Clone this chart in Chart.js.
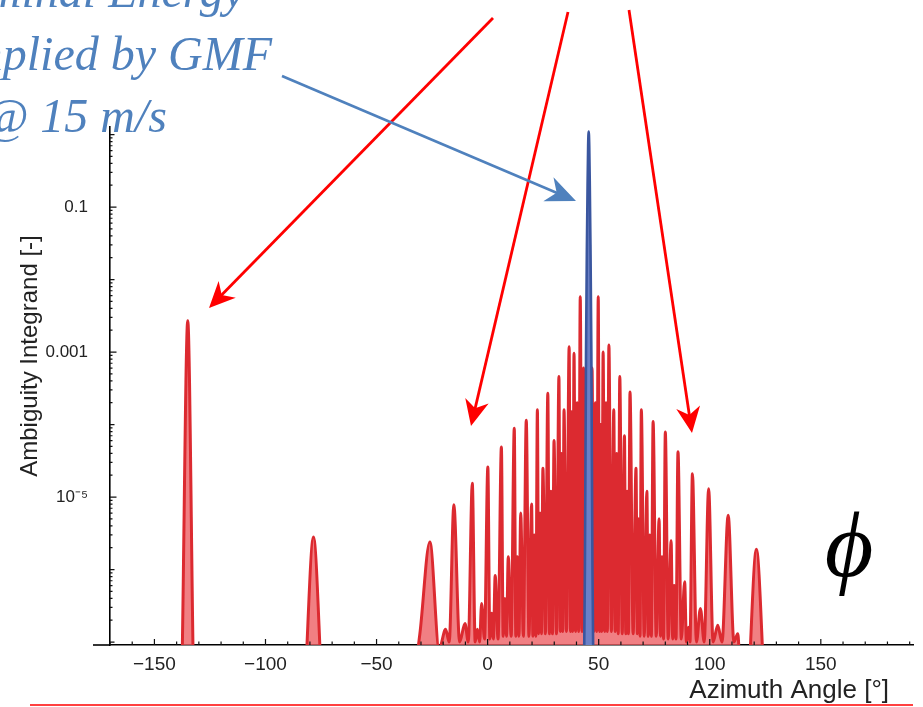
<!DOCTYPE html>
<html>
<head>
<meta charset="utf-8">
<title>Ambiguity Integrand</title>
<script src="https://cdn.jsdelivr.net/npm/chart.js"></script>
<style>
  html, body { margin: 0; padding: 0; background: #fff; }
  #wrap { width: 923px; height: 707px; position: relative; }
</style>
</head>
<body>
<div id="wrap"><canvas id="ambChart"></canvas></div>
<script>
// azimuth angles [deg] and ambiguity integrand values
// (peak, then the dip that follows it)
const redAngle = [
  -172,
  -138.3, -135.0, -131.8,
  -83.5, -78.4, -73.4,
  -36.0, -30.5, -26.0, -21.8,
  -18.9, -17.3, -15.2, -12.6, -10.2, -8.7, -6.9, -5.6, -4.6, -3.6, -2.7, -1.4,
  0.1, 1.0, 1.8, 2.6, 3.4, 4.7, 6.2, 7.0, 7.8, 8.5, 9.3, 10.6,
  12.0, 12.7, 13.4, 14.1, 14.9, 16.1, 17.4, 18.6, 19.8, 20.4, 21.0, 21.7,
  22.4, 23.0, 23.6, 24.2, 24.9, 26.0, 27.1, 27.8, 28.5, 29.2, 29.9, 31.0,
  32.1, 32.7, 33.2, 33.8, 34.4, 35.5, 36.7, 37.3, 37.8, 38.3, 38.9, 39.6,
  40.3, 41.0, 41.7, 42.5, 43.2, 44.0, 44.8, 45.6, 47.0, 47.8, 48.5, 49.1,
  49.8, 50.4, 50.9, 51.4, 52.0, 52.7, 53.3, 53.9, 54.6, 55.7, 56.8, 57.4,
  58.1, 58.8, 59.5, 60.6, 61.6, 62.2, 62.8, 63.4, 64.1, 65.5, 66.8, 67.4,
  68.0, 68.6, 69.2, 70.5, 71.7, 72.3, 73.0, 73.7, 74.5, 75.9, 77.2, 77.8,
  78.5, 79.2, 80.0, 81.3, 82.6, 83.3, 84.0, 84.8, 85.7, 87.2, 88.7, 89.5,
  90.4, 91.1, 92.2, 94.0, 95.8, 97.5, 99.5, 101.5, 103.6, 105.5, 108.3, 110.9,
  112.6, 114.5,
  116.2, 121.0, 125.8,
  196
];
const redValue = [
  1e-8,
  1e-8, 2.7e-3, 1e-8,
  1e-8, 2.8e-6, 1e-8,
  1e-8, 1.3e-7, 2.4e-6, 8e-8,
  1.5e-7, 1.0e-7, 7.8e-6, 1.0e-7, 1.8e-7, 1.0e-7, 1.55e-5, 1.0e-7, 1.5e-7, 1.0e-7, 3.4e-7, 1.1e-7,
  2.6e-5, 1.1e-7, 2.5e-7, 1.1e-7, 8.3e-7, 1.1e-7, 4.9e-5, 1.2e-7, 4e-7, 1.2e-7, 1.5e-6, 1.2e-7,
  8.9e-5, 1.2e-7, 1.5e-6, 1.2e-7, 6e-6, 1.2e-7, 1.15e-4, 1.2e-7, 8e-6, 1.2e-7, 3e-6, 1.2e-7,
  1.6e-4, 1.3e-7, 6e-6, 1.3e-7, 2.5e-5, 1.3e-7, 2.7e-4, 1.3e-7, 1.2e-5, 1.3e-7, 6e-5, 1.3e-7,
  4.6e-4, 1.4e-7, 4e-5, 1.4e-7, 1.6e-4, 1.4e-7, 1.18e-3, 1.4e-7, 1.5e-4, 1.4e-7, 9.6e-4, 1.4e-7,
  2e-4, 1.4e-7, 5.8e-3, 1.4e-7, 6e-4, 1.4e-7, 2e-4, 1.4e-7, 6e-4, 1.4e-7, 2e-4, 1.4e-7,
  5.8e-3, 1.4e-7, 1e-4, 1.4e-7, 1.0e-3, 1.4e-7, 2e-4, 1.4e-7, 1.25e-3, 1.4e-7, 1.6e-4, 1.4e-7,
  4e-5, 1.3e-7, 4.6e-4, 1.3e-7, 7e-5, 1.3e-7, 1.2e-5, 1.3e-7, 2.8e-4, 1.3e-7, 2.5e-5, 1.3e-7,
  5e-6, 1.2e-7, 1.6e-4, 1.2e-7, 1.2e-5, 1.2e-7, 3e-6, 1.2e-7, 1.1e-4, 1.2e-7, 5e-6, 1.2e-7,
  1.5e-6, 1.1e-7, 7.9e-5, 1.1e-7, 2.5e-6, 1.1e-7, 6e-7, 1.1e-7, 4.2e-5, 1.1e-7, 6.8e-7, 1.0e-7,
  1.6e-7, 1.0e-7, 2.1e-5, 1.0e-7, 2.9e-7, 1.0e-7, 1.3e-5, 1.0e-7, 1.7e-7, 1.0e-7, 5.6e-6, 1.0e-7,
  1.3e-7, 1e-8,
  1e-8, 1.9e-6, 1e-8,
  1e-8
];
// GMF peak
const blueAngle = [43.2, 43.8, 44.3, 44.7, 45.0, 45.25, 45.5, 45.75, 46.0, 46.3, 46.7, 47.2, 47.8];
const blueValue = [1e-8, 1e-6, 1e-3, 0.03, 0.2, 0.7, 1.1, 0.7, 0.2, 0.03, 1e-3, 1e-6, 1e-8];

const xTickValues = [-150, -100, -50, 0, 50, 100, 150];
const yTickValues = [1e-5, 1e-3, 0.1];
const yTickLabels = ['10\u207B\u2075', '0.001', '0.1'];

const pts = (xs, ys) => xs.map((a, i) => ({ x: a, y: ys[i] }));

// arrows and slide text around the plot
function arrow(ctx, x1, y1, x2, y2, color, w, len, half) {
  const ang = Math.atan2(y2 - y1, x2 - x1);
  const bx = x2 - Math.cos(ang) * len, by = y2 - Math.sin(ang) * len;
  ctx.strokeStyle = color; ctx.fillStyle = color; ctx.lineWidth = w;
  ctx.beginPath(); ctx.moveTo(x1, y1);
  ctx.lineTo(x2 - Math.cos(ang) * len * 0.6, y2 - Math.sin(ang) * len * 0.6); ctx.stroke();
  const nx = -Math.sin(ang), ny = Math.cos(ang);
  ctx.beginPath();
  ctx.moveTo(x2, y2);
  ctx.lineTo(bx + nx * half, by + ny * half);
  ctx.lineTo(x2 - Math.cos(ang) * len * 0.7, y2 - Math.sin(ang) * len * 0.7);
  ctx.lineTo(bx - nx * half, by - ny * half);
  ctx.closePath(); ctx.fill();
}

const slideBits = {
  id: 'slideBits',
  afterDraw(chart) {
    const { ctx, chartArea: a, scales: { x, y } } = chart;
    ctx.save();
    // inward ticks, Mathematica style
    ctx.strokeStyle = '#111'; ctx.lineWidth = 1.2;
    ctx.beginPath();
    for (let v = -170; v <= 190; v += 10) {
      const px = x.getPixelForValue(v);
      const len = v % 50 === 0 ? 6 : 3.5;
      ctx.moveTo(px, a.bottom); ctx.lineTo(px, a.bottom - len);
    }
    for (let e = -8; e <= 0; e++) {
      for (let k = 1; k <= 9; k++) {
        const v = k * Math.pow(10, e);
        if (v < y.min || v > y.max) continue;
        const py = y.getPixelForValue(v);
        let len = 2.5;
        if (k === 1) len = (e === -5 || e === -3 || e === -1) ? 6.5 : 4.5;
        ctx.moveTo(a.left, py); ctx.lineTo(a.left + len, py);
      }
    }
    ctx.stroke();
    // x axis runs a little past the y axis
    ctx.lineWidth = 1.6; ctx.strokeStyle = '#000';
    ctx.beginPath(); ctx.moveTo(93, a.bottom); ctx.lineTo(a.left, a.bottom); ctx.stroke();

    // axis titles
    ctx.fillStyle = '#222';
    ctx.font = '26px "Liberation Sans", Arial, sans-serif';
    ctx.textAlign = 'right'; ctx.textBaseline = 'middle';
    ctx.fillText('Azimuth Angle [\u00B0]', 889, 691, 208);
    ctx.save();
    ctx.translate(30, 356); ctx.rotate(-Math.PI / 2);
    ctx.textAlign = 'center';
    ctx.font = '24px "Liberation Sans", Arial, sans-serif';
    ctx.fillText('Ambiguity Integrand [-]', 0, 0, 255);
    ctx.restore();

    // arrows
    arrow(ctx, 493, 18, 209, 308, '#ff0000', 2.8, 26, 12);
    arrow(ctx, 568, 12, 471, 426, '#ff0000', 2.8, 26, 12);
    arrow(ctx, 629, 10, 692, 433, '#ff0000', 2.8, 26, 12);
    arrow(ctx, 282, 76, 576, 201, '#4f81bd', 2.6, 30, 13);

    // slide text
    ctx.fillStyle = '#4f81bd';
    ctx.font = 'italic 48px "Liberation Serif", "Times New Roman", serif';
    ctx.textAlign = 'right'; ctx.textBaseline = 'alphabetic';
    ctx.fillText('Nominal Energy', 245, 7);
    ctx.fillText('implied by GMF', 272, 70);
    ctx.fillText('@ 15 m/s', 167, 132);

    ctx.fillStyle = '#000';
    ctx.font = 'italic 94px "Liberation Serif", "DejaVu Serif", serif';
    ctx.textAlign = 'center';
    ctx.fillText('\u03D5', 849, 576);

    // red rule at the bottom of the slide
    ctx.strokeStyle = '#ff0000'; ctx.lineWidth = 1.6;
    ctx.beginPath(); ctx.moveTo(30, 705); ctx.lineTo(913, 705); ctx.stroke();
    ctx.restore();
  }
};

Chart.defaults.font.family = '"Liberation Sans", Arial, sans-serif';

new Chart(document.getElementById('ambChart'), {
  type: 'line',
  data: {
    datasets: [
      {
        label: 'GMF',
        data: pts(blueAngle, blueValue),
        borderColor: '#3a569f',
        backgroundColor: '#6b80c6',
        borderWidth: 2.6,
        fill: 'start',
        pointRadius: 0,
        cubicInterpolationMode: 'monotone'
      },
      {
        label: 'Ambiguity',
        data: pts(redAngle, redValue),
        borderColor: '#dc2a30',
        backgroundColor: 'rgba(238, 95, 100, 0.8)',
        borderWidth: 3,
        fill: 'start',
        pointRadius: 0,
        cubicInterpolationMode: 'monotone'
      }
    ]
  },
  options: {
    responsive: true,
    maintainAspectRatio: false,
    animation: false,
    layout: { padding: { top: 127, right: 10, left: 0, bottom: 0 } },
    plugins: { legend: { display: false }, tooltip: { enabled: false } },
    scales: {
      x: {
        type: 'linear',
        min: -170,
        max: 191.5,
        afterFit: s => { s.height = 62; },
        afterBuildTicks: s => { s.ticks = xTickValues.map(v => ({ value: v })); },
        grid: { display: true, drawOnChartArea: false, drawTicks: false },
        border: { color: '#000', width: 1.6 },
        ticks: {
          autoSkip: false,
          maxRotation: 0,
          padding: 8,
          color: '#222',
          font: { size: 19 },
          callback: v => (v < 0 ? '\u2212' + Math.abs(v) : String(v))
        }
      },
      y: {
        type: 'logarithmic',
        min: 9.1e-8,
        max: 1.27,
        afterFit: s => { s.width = 110; },
        afterBuildTicks: s => { s.ticks = yTickValues.map(v => ({ value: v })); },
        grid: { display: true, drawOnChartArea: false, drawTicks: false },
        border: { color: '#000', width: 1.6 },
        ticks: {
          autoSkip: false,
          padding: 22,
          color: '#222',
          font: { size: 17 },
          callback: v => {
            const i = yTickValues.findIndex(t => Math.abs(t - v) / t < 1e-6);
            return i >= 0 ? yTickLabels[i] : '';
          }
        }
      }
    }
  },
  plugins: [slideBits]
});
</script>
</body>
</html>
